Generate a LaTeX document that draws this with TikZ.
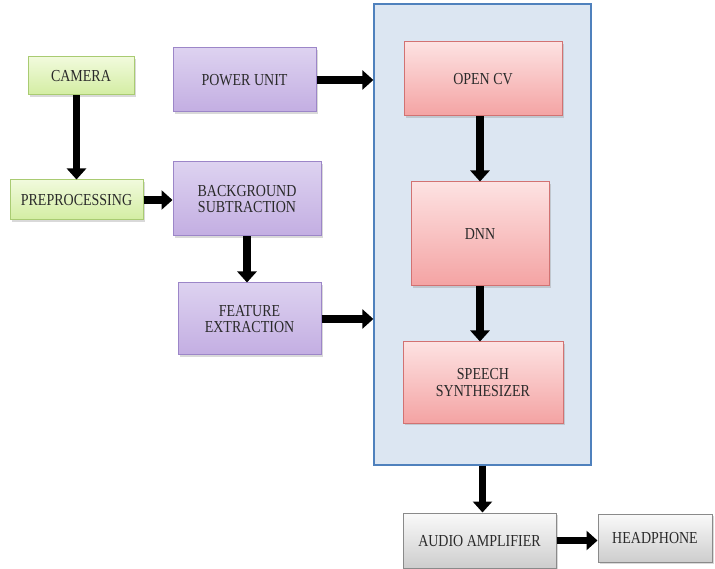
\documentclass[tikz,border=0pt]{standalone}
\usepackage{fontspec}
\usepackage{graphicx}
\setmainfont{Liberation Serif}
\usetikzlibrary{arrows.meta,shadows}
\definecolor{grnT}{HTML}{F1FADC}
\definecolor{grnB}{HTML}{D3EDA2}
\definecolor{grnD}{HTML}{A9CB72}
\definecolor{purT}{HTML}{DDD2F0}
\definecolor{purB}{HTML}{C3AEE2}
\definecolor{purD}{HTML}{9C86C8}
\definecolor{redT}{HTML}{FDE2E2}
\definecolor{redB}{HTML}{F4A3A3}
\definecolor{redD}{HTML}{D27272}
\definecolor{gryT}{HTML}{FAFAFA}
\definecolor{gryB}{HTML}{CDCDCD}
\definecolor{gryD}{HTML}{8A8A8A}
\definecolor{bluF}{HTML}{DCE6F2}
\definecolor{bluD}{HTML}{4F81BD}
\definecolor{txt}{HTML}{2A2A2A}
\newcommand\stx[1]{\raisebox{-2.2pt}[\height][\depth]{\scalebox{1}[1.2]{\begin{tabular}{@{}c@{}}#1\end{tabular}}}}
\tikzset{
  box/.style={rectangle, line width=1pt, align=center, inner sep=2pt,
    font=\fontsize{14}{14}\selectfont, text=txt,
    drop shadow={shadow xshift=2pt, shadow yshift=-2pt, opacity=0.3}},
  grn/.style={box, top color=grnT, bottom color=grnB, draw=grnD},
  pur/.style={box, top color=purT, bottom color=purB, draw=purD},
  red/.style={box, top color=redT, bottom color=redB, draw=redD},
  gry/.style={box, top color=gryT, bottom color=gryB, draw=gryD},
  arr/.style={line width=7.5pt, black, -{Triangle[width=19pt,length=11pt]}}
}
\begin{document}
\begin{tikzpicture}[x=1pt,y=-1pt]
\useasboundingbox (0,0) rectangle (715,569);
\node[rectangle, fill=bluF, draw=bluD, line width=1.3pt, minimum width=217pt, minimum height=461pt] (blue) at (482.5,234.5) {};
\node[grn, minimum width=106pt, minimum height=38pt] (camera) at (81,76) {\stx{CAMERA}};
\node[pur, minimum width=143pt, minimum height=64pt] (power) at (244.5,80) {\stx{POWER UNIT}};
\node[grn, minimum width=133pt, minimum height=40pt] (prep) at (76.5,200) {\stx{PREPROCESSING}};
\node[pur, minimum width=148pt, minimum height=74pt] (bg) at (247,199) {\stx{BACKGROUND\\SUBTRACTION}};
\node[pur, minimum width=143pt, minimum height=72pt] (feat) at (249.5,319) {\stx{FEATURE\\EXTRACTION}};
\node[red, minimum width=158pt, minimum height=74pt] (cv) at (483,79) {\stx{OPEN CV}};
\node[red, minimum width=138pt, minimum height=104pt] (dnn) at (480,234) {\stx{DNN}};
\node[red, minimum width=160pt, minimum height=81pt] (speech) at (483,382.5) {\stx{SPEECH\\SYNTHESIZER}};
\node[gry, minimum width=153pt, minimum height=55pt] (audio) at (479.5,540.5) {\stx{AUDIO AMPLIFIER}};
\node[gry, minimum width=114pt, minimum height=48pt] (head) at (655,538) {\stx{HEADPHONE}};
\draw[arr] (camera.south -| prep.north) -- (prep.north);
\draw[arr] (prep.east) -- (prep.east -| bg.west);
\draw[arr] (bg.south) -- (bg.south |- feat.north);
\draw[arr] (power.east) -- (power.east -| blue.west);
\draw[arr] (feat.east) -- (feat.east -| blue.west);
\draw[arr] (cv.south -| dnn.north) -- (dnn.north);
\draw[arr] (dnn.south) -- (dnn.south |- speech.north);
\draw[arr] (blue.south) -- (blue.south |- audio.north);
\draw[arr] (audio.east) -- (audio.east -| head.west);
\end{tikzpicture}
\end{document}
